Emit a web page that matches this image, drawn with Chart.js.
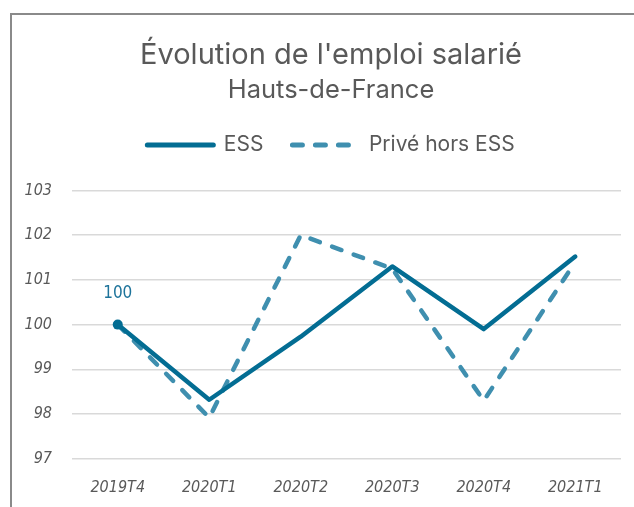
<!DOCTYPE html>
<html>
<head>
<meta charset="utf-8">
<script src="https://cdn.jsdelivr.net/npm/chart.js@4"></script>
<style>
  html, body { margin: 0; padding: 0; background: #fff; width: 634px; height: 507px; overflow: hidden; }
  #frame { position: absolute; left: 10px; top: 13px; width: 700px; height: 600px; border-top: 2px solid #8a8a8a; border-left: 2px solid #8a8a8a; }
  #wrap { position: absolute; left: 13px; top: 0; width: 634px; height: 516px; }
</style>
</head>
<body>
<div id="frame"></div>
<div id="wrap"><canvas id="c" width="634" height="516"></canvas></div>
<script>
const categories = ['2019T4', '2020T1', '2020T2', '2020T3', '2020T4', '2021T1'];
const essValues = [100, 98.32, 99.73, 101.3, 99.9, 101.52];
const priveValues = [100, 97.92, 102.0, 101.25, 98.3, 101.4];
const yTicks = [97, 98, 99, 100, 101, 102, 103];

const essColor = '#036d93';
const priveColor = '#3f8faf';
const textColor = '#595959';
const tickFont = '"Liberation Sans Narrow", "DejaVu Sans Condensed", sans-serif';

const firstLabelPlugin = {
  id: 'firstLabel',
  afterDatasetsDraw(chart) {
    const pt = chart.getDatasetMeta(0).data[0];
    const ctx = chart.ctx;
    ctx.save();
    ctx.fillStyle = '#1d739a';
    ctx.font = '17px ' + tickFont;
    ctx.textAlign = 'center';
    ctx.textBaseline = 'middle';
    ctx.fillText(String(essValues[0]), pt.x, pt.y - 31);
    ctx.restore();
  }
};

const legendGapPlugin = {
  id: 'legendGap',
  beforeInit(chart) {
    const lg = chart.legend;
    if (!lg) return;
    const orig = lg.fit.bind(lg);
    lg.fit = function () { orig(); this.height += 25; };
  },
  afterLayout(chart) {
    // centre the heading blocks on the framed panel rather than the canvas
    chart.boxes.forEach(b => {
      if (b.position === 'top' && !b.axis) { b.left += 14; b.right += 14; }
    });
  }
};

new Chart(document.getElementById('c'), {
  type: 'line',
  data: {
    labels: categories,
    datasets: [
      {
        label: 'ESS',
        data: essValues,
        borderColor: essColor,
        backgroundColor: essColor,
        borderWidth: 4.5,
        pointRadius: [5, 0, 0, 0, 0, 0],
        pointHoverRadius: 0,
        pointBackgroundColor: essColor,
        pointBorderWidth: 0,
        tension: 0,
        borderCapStyle: 'round',
        borderJoinStyle: 'round',
        order: 0
      },
      {
        label: 'Privé hors ESS',
        data: priveValues,
        borderColor: priveColor,
        backgroundColor: priveColor,
        borderWidth: 4.5,
        borderDash: [10, 13],
        borderCapStyle: 'round',
        borderJoinStyle: 'round',
        pointRadius: 0,
        tension: 0,
        order: 1
      }
    ]
  },
  options: {
    responsive: false,
    animation: false,
    devicePixelRatio: 1,
    layout: { padding: { top: 32, bottom: 0, left: 0, right: 26 } },
    plugins: {
      tooltip: { enabled: false },
      title: {
        display: true,
        text: "Évolution de l'emploi salarié",
        color: textColor,
        font: { family: 'Inter, Roboto, sans-serif', size: 29, weight: 'normal', lineHeight: 1.2 },
        padding: { top: 6, bottom: 2 }
      },
      subtitle: {
        display: true,
        text: 'Hauts-de-France',
        color: textColor,
        font: { family: 'Inter, Roboto, sans-serif', size: 25.5, weight: 'normal', lineHeight: 1.2 },
        padding: { top: 0, bottom: 0 }
      },
      legend: {
        display: true,
        labels: {
          color: textColor,
          font: { family: 'Inter, Roboto, sans-serif', size: 21 },
          usePointStyle: true,
          pointStyleWidth: 66,
          padding: 29,
          generateLabels(chart) {
            return chart.data.datasets.map((ds, i) => ({
              text: ds.label,
              fillStyle: ds.borderColor,
              strokeStyle: ds.borderColor,
              lineWidth: 5,
              lineDash: i === 1 ? [10, 13] : [],
              lineCap: 'round',
              pointStyle: 'line',
              fontColor: textColor,
              datasetIndex: i,
              hidden: false
            }));
          }
        }
      }
    },
    scales: {
      x: {
        offset: true,
        grid: { display: false, drawTicks: false },
        border: { display: false },
        ticks: {
          color: textColor,
          font: { family: tickFont, size: 16, style: 'italic' },
          padding: 19,
          maxRotation: 0
        }
      },
      y: {
        min: 97,
        max: 103,
        afterBuildTicks(scale) { scale.ticks = yTicks.map(v => ({ value: v })); },
        afterFit(scale) { scale.width = 59; },
        grid: { color: '#d9d9d9', lineWidth: 1.5, drawTicks: false },
        border: { display: false },
        ticks: {
          color: textColor,
          font: { family: tickFont, size: 16, style: 'italic' },
          padding: 20
        }
      }
    }
  },
  plugins: [firstLabelPlugin, legendGapPlugin]
});
</script>
</body>
</html>
